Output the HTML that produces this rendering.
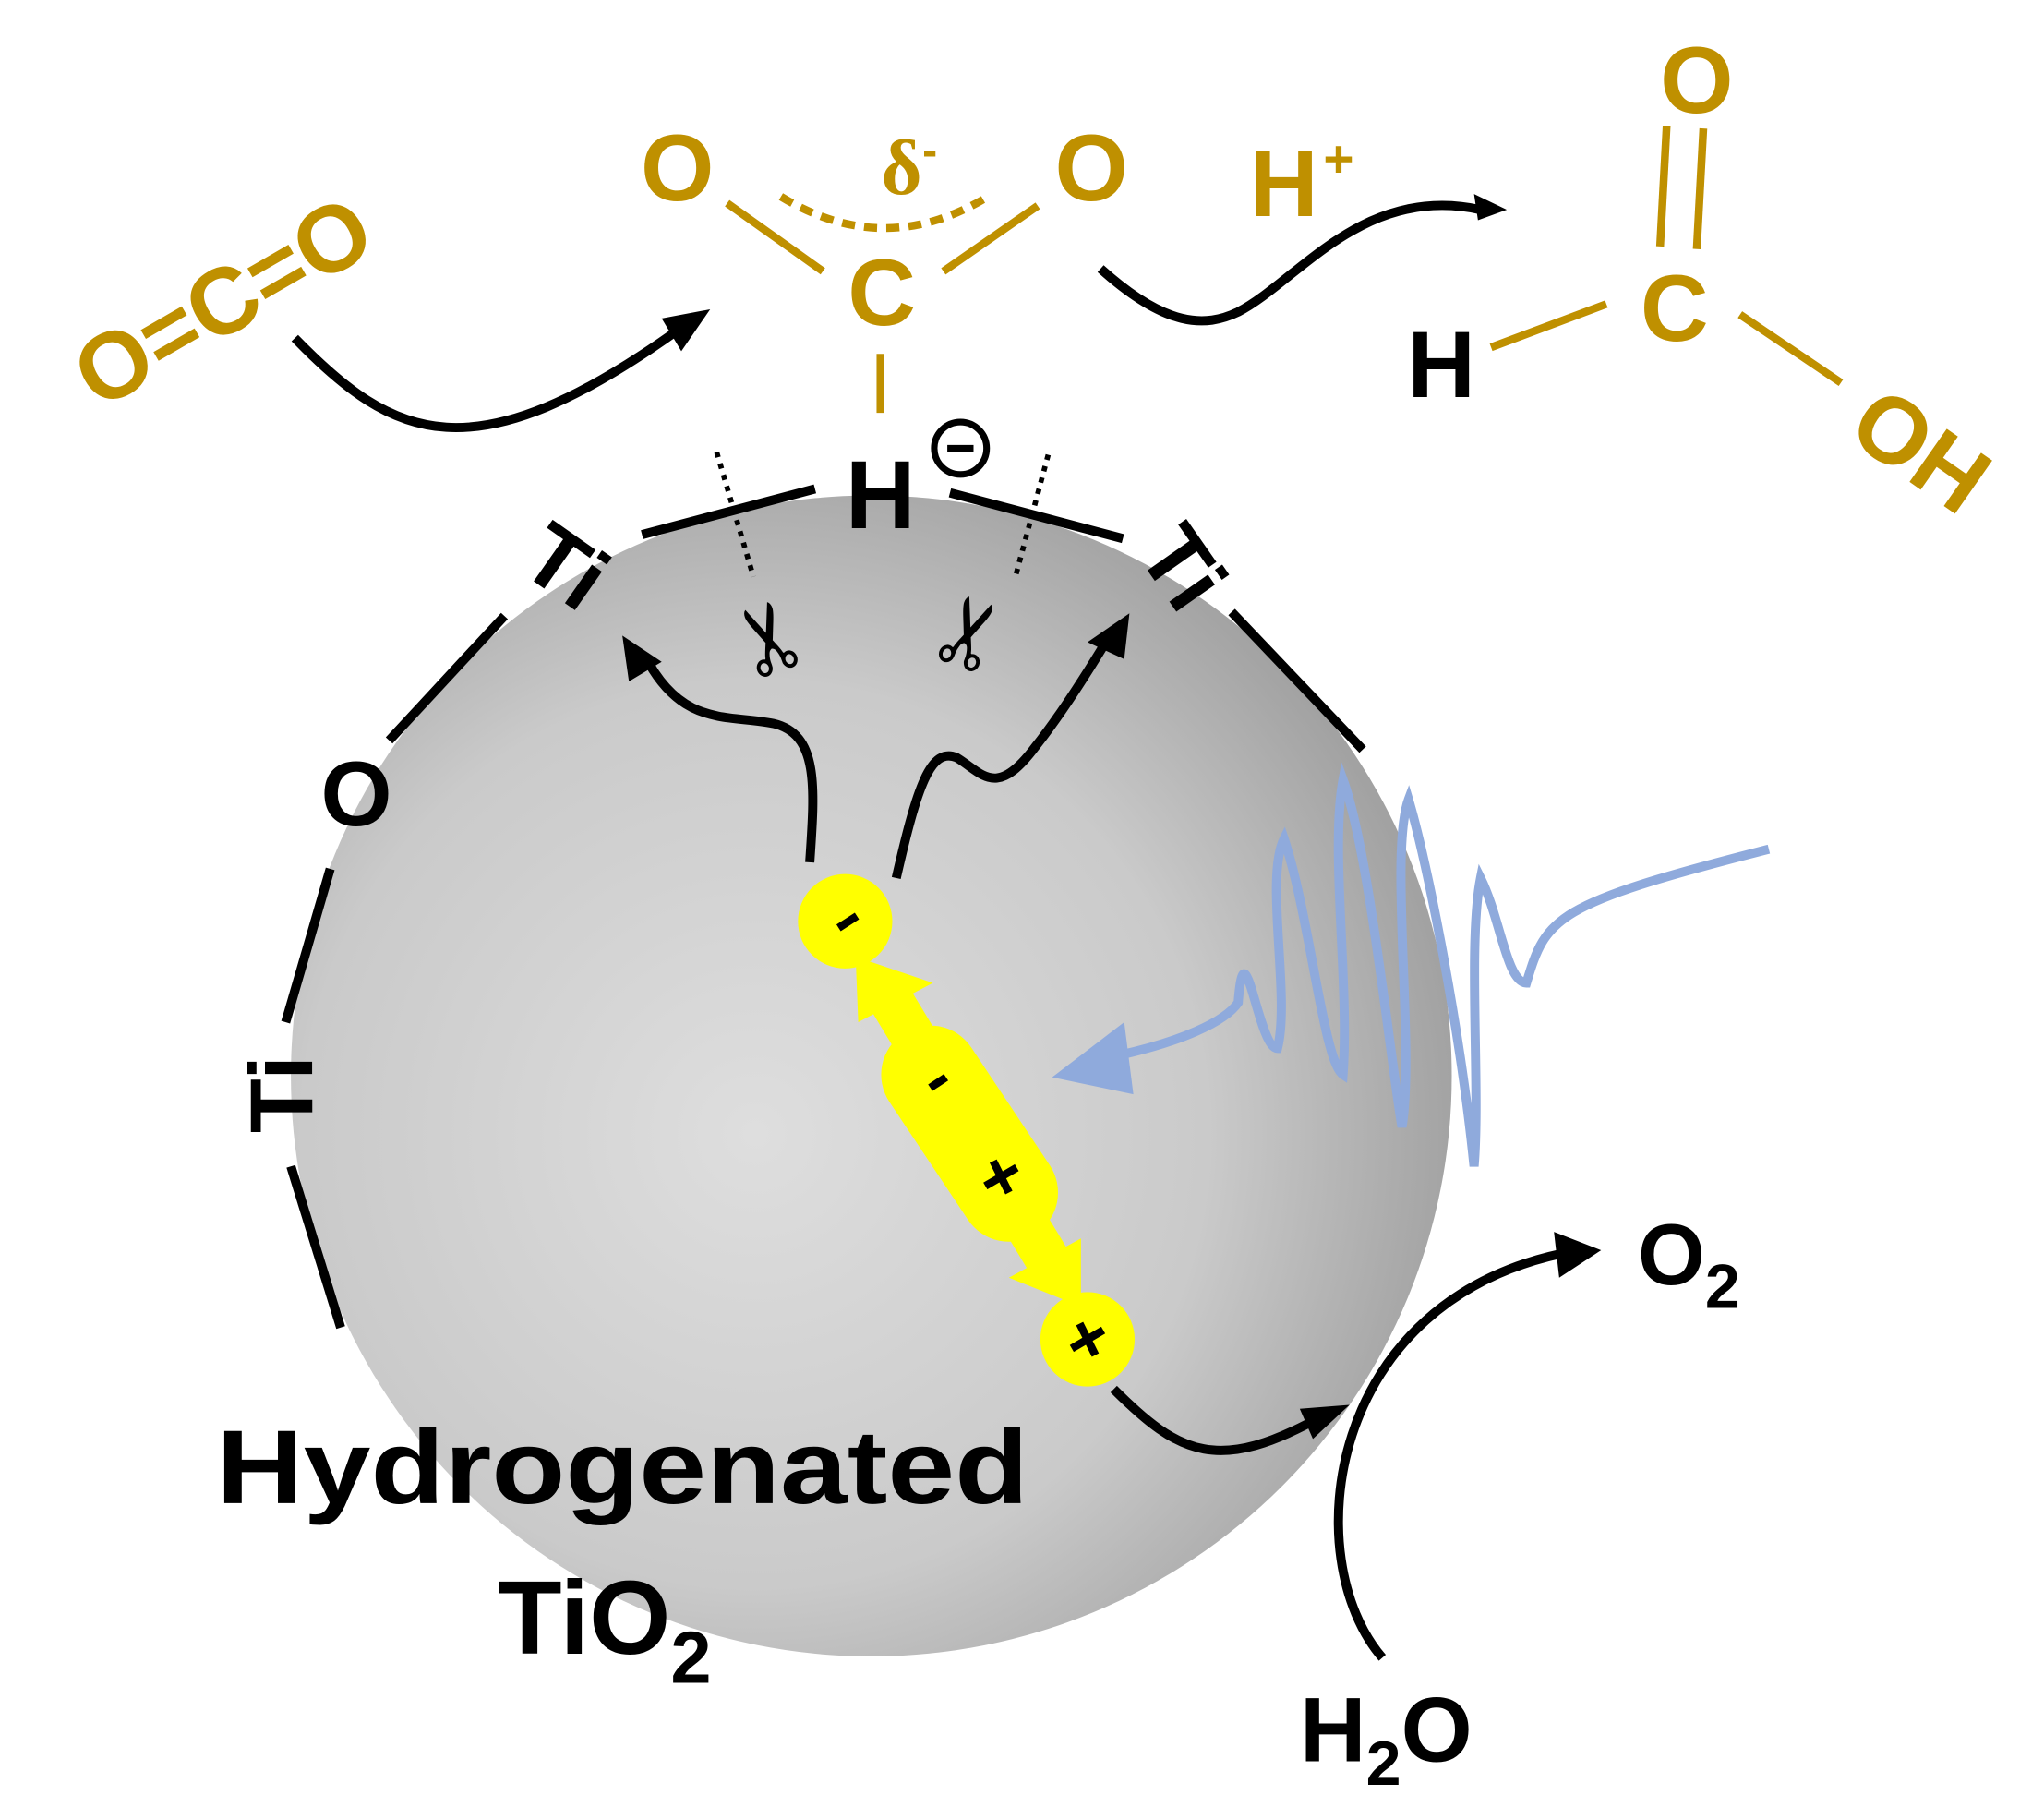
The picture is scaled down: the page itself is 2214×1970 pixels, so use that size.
<!DOCTYPE html>
<html><head><meta charset="utf-8"><style>html,body{margin:0;padding:0;background:#fff}svg{display:block}</style></head>
<body>
<svg width="2214" height="1970" viewBox="0 0 1560 1388" xmlns="http://www.w3.org/2000/svg" font-family="Liberation Sans, Arial, sans-serif" font-weight="bold">
<defs>
<radialGradient id="g" cx="0.4" cy="0.55" r="0.65">
<stop offset="0" stop-color="#dedede"/><stop offset="0.6" stop-color="#cacaca"/><stop offset="1" stop-color="#9a9a9a"/>
</radialGradient>
</defs>
<circle cx="665" cy="821" r="443" fill="url(#g)"/>
<g stroke="#000" stroke-width="7" fill="none">
<line x1="490" y1="408" x2="622" y2="373"/>
<line x1="725" y1="376" x2="857" y2="411"/>
<line x1="940" y1="467" x2="1040" y2="572"/>
<line x1="385" y1="470" x2="297" y2="565"/>
<line x1="252" y1="663" x2="218" y2="780"/>
<line x1="222" y1="890" x2="260" y2="1013"/>
</g>
<g fill="#000" font-size="68">
<text x="430" y="455" text-anchor="middle" transform="rotate(35 430 435)">Ti</text>
<text x="900" y="455" text-anchor="middle" transform="rotate(55 900 435)">Ti</text>
<text x="215" y="858" text-anchor="middle" transform="rotate(-90 215 835)">Ti</text>
<text x="272" y="630" text-anchor="middle" font-size="70">O</text>
<text x="672" y="403" text-anchor="middle" font-size="74">H</text>
</g>
<circle cx="733" cy="342" r="20" fill="none" stroke="#000" stroke-width="5"/>
<line x1="723" y1="342" x2="743" y2="342" stroke="#000" stroke-width="5"/>
<g stroke="#000" stroke-width="4" stroke-dasharray="4 5">
<line x1="547" y1="345" x2="575" y2="440"/>
<line x1="800" y1="347" x2="775" y2="440"/>
</g>
<text x="592" y="505" font-size="72" font-weight="normal" text-anchor="middle" transform="rotate(-110 592 485)">✂</text>
<text x="745" y="505" font-size="72" font-weight="normal" text-anchor="middle" transform="rotate(-70 745 485)">✂</text>
<g fill="#bf9000" font-size="72">
<text x="170" y="255" text-anchor="middle" transform="rotate(-30 170 230)">O=C=O</text>
<text x="517" y="153" text-anchor="middle">O</text>
<text x="833" y="153" text-anchor="middle">O</text>
<text x="673" y="248" text-anchor="middle">C</text>
<text x="688" y="148" text-anchor="middle" font-size="60" font-family="Liberation Serif, serif">δ</text>
<text x="704" y="126" font-size="34">-</text>
<text x="980" y="165" text-anchor="middle">H</text>
<text x="1010" y="135" font-size="40">+</text>
<text x="1295" y="86" text-anchor="middle">O</text>
<text x="1278" y="260" text-anchor="middle">C</text>
<text x="1465" y="368" text-anchor="middle" transform="rotate(35 1465 345)">OH</text>
</g>
<text x="1100" y="303" text-anchor="middle" font-size="72" fill="#000">H</text>
<g stroke="#bf9000" stroke-width="6" fill="none">
<line x1="555" y1="155" x2="628" y2="207"/>
<line x1="720" y1="207" x2="792" y2="157"/>
<line x1="672" y1="270" x2="672" y2="315"/>
<path d="M596,150 Q675,198 754,150" stroke-dasharray="10 7"/>
<line x1="1272" y1="96" x2="1267" y2="188"/>
<line x1="1300" y1="98" x2="1295" y2="190"/>
<line x1="1138" y1="265" x2="1226" y2="232"/>
<line x1="1328" y1="240" x2="1405" y2="292"/>
</g>
<g stroke="#000" stroke-width="7" fill="none">
<path d="M225,258 C300,335 360,365 520,250"/>
<path d="M840,205 C890,250 920,250 945,238 C990,215 1040,140 1130,160"/>
<path d="M618,658 C622,600 625,560 590,552 C555,545 520,555 492,500"/>
<path d="M684,670 C700,600 710,570 730,578 C750,590 760,610 790,570 C810,545 835,505 850,480"/>
<path d="M850,1060 C900,1110 930,1125 1010,1080"/>
<path d="M1055,1265 C990,1190 1010,990 1200,955"/>
</g>
<g fill="#000">
<polygon points="542,236 505,243 520,268"/>
<polygon points="1150,160 1125,148 1128,168"/>
<polygon points="475,485 480,520 505,505"/>
<polygon points="862,468 830,490 858,503"/>
<polygon points="1030,1072 992,1075 1002,1098"/>
<polygon points="1222,954 1186,940 1190,975"/>
</g>
<g fill="#ffff00">
<circle cx="645" cy="703" r="36"/>
<circle cx="830" cy="1022" r="36"/>
<line x1="710" y1="820" x2="770" y2="910" stroke="#ffff00" stroke-width="75" stroke-linecap="round"/>
<line x1="675" y1="755" x2="805" y2="970" stroke="#ffff00" stroke-width="34"/>
<polygon points="653,730 712,750 655,780"/>
<polygon points="825,945 770,975 825,997"/>
</g>
<g stroke="#000" stroke-width="6">
<line x1="640" y1="708" x2="654" y2="699"/>
<line x1="710" y1="830" x2="722" y2="822"/>
<line x1="752" y1="905" x2="776" y2="891"/><line x1="758" y1="886" x2="770" y2="910"/>
<line x1="818" y1="1029" x2="842" y2="1015"/><line x1="824" y1="1010" x2="836" y2="1034"/>
</g>
<path d="M855,805 C900,795 935,780 945,765 C950,700 960,800 975,800 C985,760 965,670 980,640 C1000,700 1010,810 1025,820 C1030,750 1015,650 1025,595 C1045,650 1060,800 1070,860 C1080,800 1060,650 1075,610 C1090,660 1115,790 1125,890 C1130,830 1120,720 1130,670 C1145,700 1150,750 1165,750 C1180,700 1185,690 1350,648" stroke="#8faadc" stroke-width="7" fill="none"/>
<polygon points="803,822 858,780 865,835" fill="#8faadc"/>
<g fill="#000" font-size="80">
<text x="165" y="1147" textLength="620" lengthAdjust="spacingAndGlyphs">Hydrogenated</text>
<text x="380" y="1262">TiO<tspan font-size="56" dy="22">2</tspan></text>
<text x="1250" y="980" font-size="66">O<tspan font-size="48" dy="18">2</tspan></text>
<text x="992" y="1344" font-size="70">H<tspan font-size="48" dy="18">2</tspan><tspan dy="-18">O</tspan></text>
</g>
</svg>
</body></html>
